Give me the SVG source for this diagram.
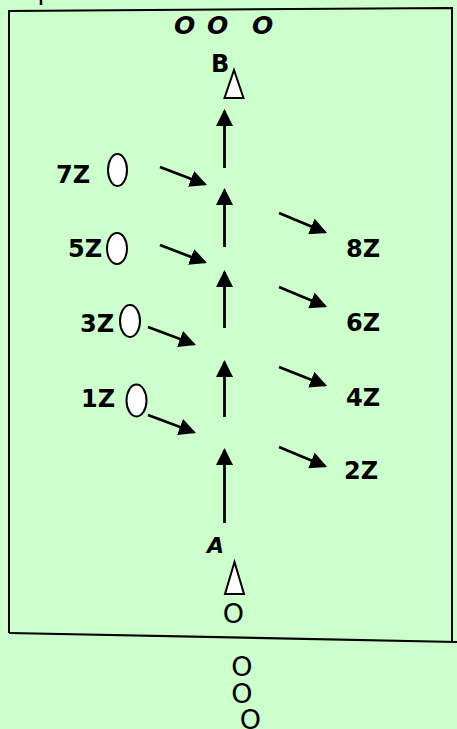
<svg xmlns="http://www.w3.org/2000/svg" width="457" height="729" viewBox="0 0 457 729">
<style>
.lbl{font-family:"DejaVu Sans",sans-serif;font-weight:bold;font-size:24px;fill:#000}
.oo{font-family:"DejaVu Sans",sans-serif;font-size:27px;fill:#000}
.it{font-family:"DejaVu Sans",sans-serif;font-weight:bold;font-style:italic;fill:#000}
.ar{stroke:#000;stroke-width:2.8;fill:none;marker-end:url(#ah)}
.pl{fill:#fff;stroke:#000;stroke-width:2}
.tri{fill:#fff;stroke:#000;stroke-width:2;stroke-linejoin:miter}
</style>
<defs>
<marker id="ah" viewBox="0 0 17 17" refX="15" refY="8.5" markerWidth="17" markerHeight="17" markerUnits="userSpaceOnUse" orient="auto">
<path d="M0,0 L17,8.5 L0,17 z" fill="#000"/>
</marker>
</defs>
<rect x="0" y="0" width="457" height="729" fill="#CCFFCC"/>
<g id="field">
<path d="M9,633 L9,11 L452,8 L452,641" fill="none" stroke="#000" stroke-width="2"/>
<path d="M9,633 L457,642" fill="none" stroke="#000" stroke-width="2.2"/>
<line x1="41" y1="0" x2="41" y2="5" stroke="#000" stroke-width="2.5"/>
</g>
<g id="top-players">
<text class="it" font-size="25" y="34"><tspan x="174">O</tspan><tspan x="207">O</tspan><tspan x="252">O</tspan></text>
</g>
<g id="B">
<text class="lbl" x="211" y="72" font-size="23">B</text>
<polygon class="tri" points="234,70 243.5,98 224.5,98"/>
</g>
<g id="A">
<text class="it" font-size="22" x="207" y="553">A</text>
<polygon class="tri" points="234.5,562 244,594 225,594"/>
<text class="oo" x="233.5" y="623" text-anchor="middle" font-size="28">O</text>
</g>
<g id="bottom-players">
<text class="oo" x="242" y="676" text-anchor="middle">O</text>
<text class="oo" x="242" y="703" text-anchor="middle">O</text>
<text class="oo" x="250.5" y="729" text-anchor="middle">O</text>
</g>
<g id="z7"><text class="lbl" x="56" y="183">7Z</text><ellipse class="pl" cx="117.5" cy="170" rx="9.5" ry="16"/></g>
<g id="z5"><text class="lbl" x="68" y="257">5Z</text><ellipse class="pl" cx="117" cy="248.5" rx="10" ry="15.5"/></g>
<g id="z3"><text class="lbl" x="80" y="332">3Z</text><ellipse class="pl" cx="130" cy="321" rx="10" ry="16"/></g>
<g id="z1"><text class="lbl" x="81" y="407">1Z</text><ellipse class="pl" cx="136.5" cy="400.5" rx="10" ry="16"/></g>
<g id="z8"><text class="lbl" x="346" y="257">8Z</text></g>
<g id="z6"><text class="lbl" x="346" y="331">6Z</text></g>
<g id="z4"><text class="lbl" x="346" y="406">4Z</text></g>
<g id="z2"><text class="lbl" x="344" y="479">2Z</text></g>
<g id="connectors">
<line class="ar" x1="224.5" y1="168" x2="224.5" y2="111"/>
<line class="ar" x1="224.5" y1="247" x2="224.5" y2="190"/>
<line class="ar" x1="224.5" y1="328" x2="224.5" y2="272"/>
<line class="ar" x1="224.5" y1="417" x2="224.5" y2="362"/>
<line class="ar" x1="224.5" y1="523" x2="224.5" y2="450"/>
<line class="ar" x1="160" y1="167" x2="205.1" y2="184.3"/>
<line class="ar" x1="160" y1="245" x2="205.1" y2="262.3"/>
<line class="ar" x1="148" y1="327" x2="194.1" y2="344.3"/>
<line class="ar" x1="148" y1="415" x2="194.1" y2="432.3"/>
<line class="ar" x1="279" y1="213" x2="325.2" y2="232.2"/>
<line class="ar" x1="279" y1="287" x2="325.2" y2="306.2"/>
<line class="ar" x1="279" y1="367" x2="325.2" y2="385.2"/>
<line class="ar" x1="279" y1="447" x2="325.2" y2="466.2"/>
</g>
</svg>
